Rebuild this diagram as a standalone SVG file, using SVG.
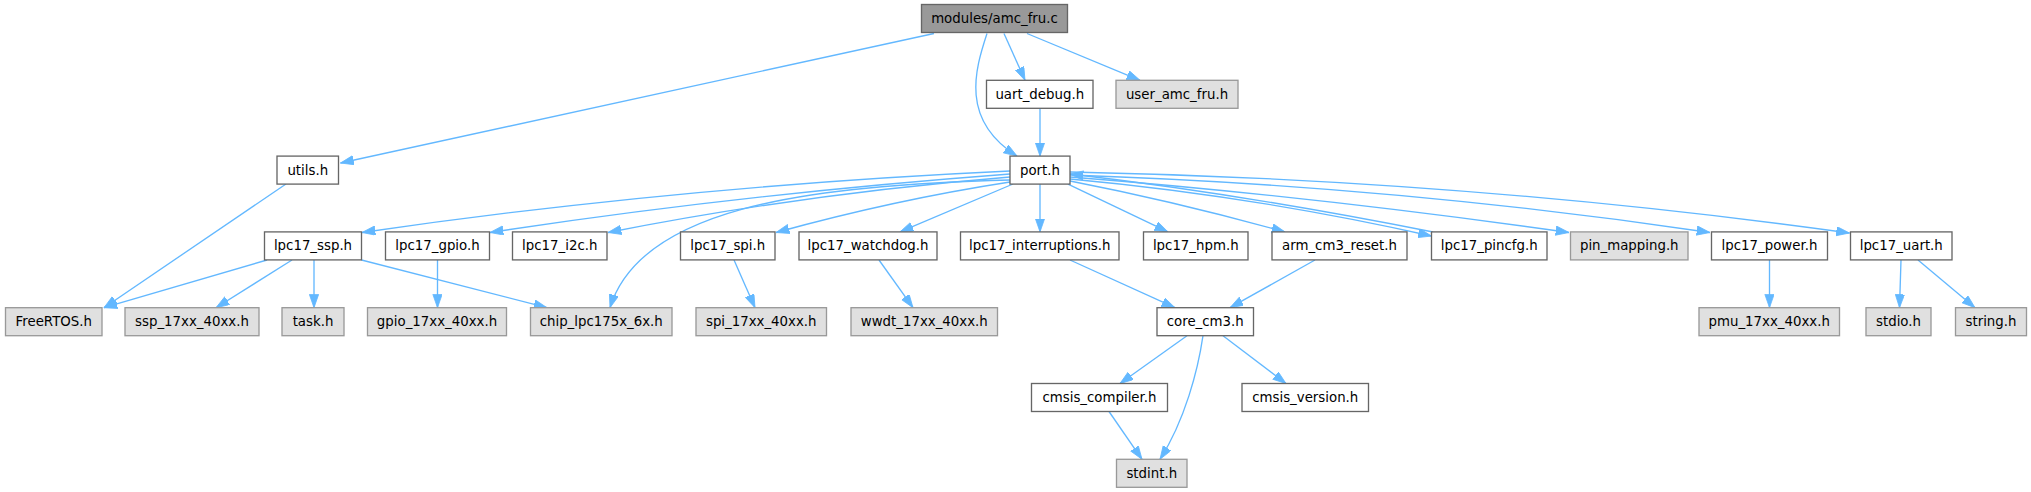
<svg xmlns="http://www.w3.org/2000/svg" width="2031" height="492" viewBox="0 0 2031 492">
<style>
.n rect{fill:#ffffff;stroke:#666666;stroke-width:1.33}
.g rect{fill:#e0e0e0;stroke:#999999;stroke-width:1.33}
.m rect{fill:#999999;stroke:#666666;stroke-width:1.33}
text{font-family:"DejaVu Sans",sans-serif;font-size:13.33px;fill:#000000;text-anchor:middle}
#edges path{fill:none;stroke:#63b8ff;stroke-width:1.33;marker-end:url(#ah)}
</style>
<defs>
<marker id="ah" markerUnits="userSpaceOnUse" markerWidth="14" markerHeight="10" viewBox="0 0 14 10" refX="13.3" refY="4.65" orient="auto">
<path d="M0,0 L13.3,4.65 L0,9.3 z" fill="#63b8ff" stroke="#63b8ff" stroke-width="0.8"/>
</marker>
</defs>
<rect width="2031" height="492" fill="#ffffff"/>
<g id="edges">
<path d="M934,33.5 L340.5,163"/>
<path d="M987,33.5 C975,70 960,120 1017,156"/>
<path d="M1004,33.5 L1025,80.3"/>
<path d="M1027,33.5 L1140,80.3"/>
<path d="M1040,108.3 L1040,156.1"/>
<path d="M286,184 L104,307.7"/>
<path d="M1010,171 C794,181 578,201 362,232.5"/>
<path d="M1010,174 C837,187 663,206 490,232.5"/>
<path d="M1010,177 C876,188 742,206 608,232.5"/>
<path d="M1010,180 C800,185 640,210 610,307.7"/>
<path d="M1010,182 C932,194 854,211 776,232.5"/>
<path d="M1013,184 L900,231.9"/>
<path d="M1040,184.1 L1040,231.9"/>
<path d="M1068,184.1 L1168,231.9"/>
<path d="M1070,181 C1142,195 1213,212 1285,231.9"/>
<path d="M1070,179 C1190,190 1311,209 1431.5,236"/>
<path d="M1433,232 C1312,208 1191,188 1070,174"/>
<path d="M1070,177 C1236,190 1403,209 1569,232.5"/>
<path d="M1070,175 C1283,182 1497,201 1710,232.5"/>
<path d="M1070,172 C1330,177 1590,197 1849.5,233"/>
<path d="M267,260 L104,307.7"/>
<path d="M292,260 L216,307.7"/>
<path d="M314,260 L314,307.7"/>
<path d="M361.5,260 L547,307.7"/>
<path d="M437.5,260 L437.5,307.7"/>
<path d="M734,260 L755,307.7"/>
<path d="M879,260 L913,307.7"/>
<path d="M1070,260 L1175,307.7"/>
<path d="M1315,260 L1230,307.7"/>
<path d="M1769.5,260 L1769.5,307.7"/>
<path d="M1901,260 L1899.5,307.7"/>
<path d="M1918,260 L1975,307.7"/>
<path d="M1187,335.7 L1120,383.5"/>
<path d="M1203,335.7 C1198,370 1185,420 1160,459.3"/>
<path d="M1223,335.7 L1286,383.5"/>
<path d="M1109,411.5 L1142,459.3"/>
</g>
<g id="node-amc_fru_c" class="m"><rect x="921.5" y="4.5" width="146" height="28"/><text x="994.5" y="23">modules/amc_fru.c</text></g>
<g id="node-uart_debug_h" class="n"><rect x="986.5" y="80.3" width="106.5" height="28"/><text x="1039.75" y="98.8">uart_debug.h</text></g>
<g id="node-user_amc_fru_h" class="g"><rect x="1116" y="80.3" width="122" height="28"/><text x="1177" y="98.8">user_amc_fru.h</text></g>
<g id="node-utils_h" class="n"><rect x="277" y="156.1" width="61.5" height="28"/><text x="307.75" y="174.6">utils.h</text></g>
<g id="node-port_h" class="n"><rect x="1010" y="156.1" width="60" height="28"/><text x="1040" y="174.6">port.h</text></g>
<g id="node-lpc17_ssp_h" class="n"><rect x="264.5" y="231.9" width="97" height="28"/><text x="313" y="250.4">lpc17_ssp.h</text></g>
<g id="node-lpc17_gpio_h" class="n"><rect x="385.5" y="231.9" width="104" height="28"/><text x="437.5" y="250.4">lpc17_gpio.h</text></g>
<g id="node-lpc17_i2c_h" class="n"><rect x="512.5" y="231.9" width="94.5" height="28"/><text x="559.75" y="250.4">lpc17_i2c.h</text></g>
<g id="node-lpc17_spi_h" class="n"><rect x="680.5" y="231.9" width="94.5" height="28"/><text x="727.75" y="250.4">lpc17_spi.h</text></g>
<g id="node-lpc17_watchdog_h" class="n"><rect x="799" y="231.9" width="138" height="28"/><text x="868" y="250.4">lpc17_watchdog.h</text></g>
<g id="node-lpc17_interruptions_h" class="n"><rect x="960.5" y="231.9" width="158.5" height="28"/><text x="1039.75" y="250.4">lpc17_interruptions.h</text></g>
<g id="node-lpc17_hpm_h" class="n"><rect x="1143.5" y="231.9" width="104.5" height="28"/><text x="1195.75" y="250.4">lpc17_hpm.h</text></g>
<g id="node-arm_cm3_reset_h" class="n"><rect x="1272" y="231.9" width="135" height="28"/><text x="1339.5" y="250.4">arm_cm3_reset.h</text></g>
<g id="node-lpc17_pincfg_h" class="n"><rect x="1431.5" y="231.9" width="115.5" height="28"/><text x="1489.25" y="250.4">lpc17_pincfg.h</text></g>
<g id="node-pin_mapping_h" class="g"><rect x="1570.5" y="231.9" width="117.5" height="28"/><text x="1629.25" y="250.4">pin_mapping.h</text></g>
<g id="node-lpc17_power_h" class="n"><rect x="1711.5" y="231.9" width="116" height="28"/><text x="1769.5" y="250.4">lpc17_power.h</text></g>
<g id="node-lpc17_uart_h" class="n"><rect x="1850.5" y="231.9" width="101.5" height="28"/><text x="1901.25" y="250.4">lpc17_uart.h</text></g>
<g id="node-FreeRTOS_h" class="g"><rect x="5.5" y="307.7" width="96.5" height="28"/><text x="53.75" y="326.2">FreeRTOS.h</text></g>
<g id="node-ssp_17xx_40xx_h" class="g"><rect x="125" y="307.7" width="134" height="28"/><text x="192" y="326.2">ssp_17xx_40xx.h</text></g>
<g id="node-task_h" class="g"><rect x="282" y="307.7" width="62" height="28"/><text x="313" y="326.2">task.h</text></g>
<g id="node-gpio_17xx_40xx_h" class="g"><rect x="367.5" y="307.7" width="139" height="28"/><text x="437" y="326.2">gpio_17xx_40xx.h</text></g>
<g id="node-chip_lpc175x_6x_h" class="g"><rect x="530.5" y="307.7" width="141.5" height="28"/><text x="601.25" y="326.2">chip_lpc175x_6x.h</text></g>
<g id="node-spi_17xx_40xx_h" class="g"><rect x="696" y="307.7" width="130.5" height="28"/><text x="761.25" y="326.2">spi_17xx_40xx.h</text></g>
<g id="node-wwdt_17xx_40xx_h" class="g"><rect x="851" y="307.7" width="146.5" height="28"/><text x="924.25" y="326.2">wwdt_17xx_40xx.h</text></g>
<g id="node-core_cm3_h" class="n"><rect x="1157" y="307.7" width="96.5" height="28"/><text x="1205.25" y="326.2">core_cm3.h</text></g>
<g id="node-pmu_17xx_40xx_h" class="g"><rect x="1699" y="307.7" width="140.5" height="28"/><text x="1769.25" y="326.2">pmu_17xx_40xx.h</text></g>
<g id="node-stdio_h" class="g"><rect x="1866" y="307.7" width="65" height="28"/><text x="1898.5" y="326.2">stdio.h</text></g>
<g id="node-string_h" class="g"><rect x="1955.5" y="307.7" width="71" height="28"/><text x="1991" y="326.2">string.h</text></g>
<g id="node-cmsis_compiler_h" class="n"><rect x="1031.5" y="383.5" width="136" height="28"/><text x="1099.5" y="402">cmsis_compiler.h</text></g>
<g id="node-cmsis_version_h" class="n"><rect x="1242" y="383.5" width="126.5" height="28"/><text x="1305.25" y="402">cmsis_version.h</text></g>
<g id="node-stdint_h" class="g"><rect x="1116.5" y="459.3" width="70.5" height="28"/><text x="1151.75" y="477.8">stdint.h</text></g>
</svg>
